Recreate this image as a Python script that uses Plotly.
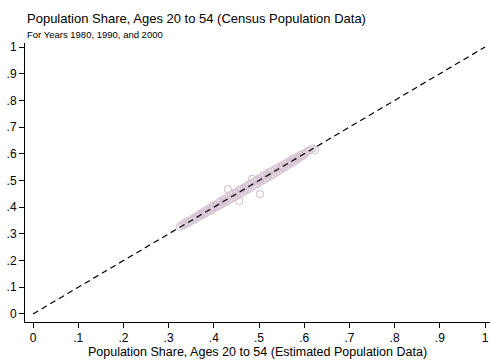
import plotly.graph_objects as go

# Estimated vs. census population share, ages 20 to 54 (1980, 1990, 2000)
est_share = [
    0.325, 0.330, 0.335, 0.338, 0.342, 0.345, 0.348, 0.352, 0.355, 0.358,
    0.360, 0.363, 0.366, 0.370, 0.372, 0.375, 0.378, 0.380, 0.383, 0.386,
    0.389, 0.392, 0.395, 0.398, 0.400, 0.403, 0.406, 0.409, 0.412, 0.415,
    0.418, 0.420, 0.423, 0.426, 0.429, 0.432, 0.435, 0.438, 0.440, 0.443,
    0.446, 0.449, 0.452, 0.455, 0.458, 0.460, 0.463, 0.466, 0.469, 0.472,
    0.475, 0.478, 0.480, 0.483, 0.486, 0.489, 0.492, 0.495, 0.498, 0.500,
    0.503, 0.506, 0.509, 0.512, 0.515, 0.518, 0.520, 0.523, 0.526, 0.529,
    0.532, 0.535, 0.538, 0.540, 0.543, 0.546, 0.549, 0.552, 0.555, 0.558,
    0.560, 0.563, 0.566, 0.569, 0.572, 0.575, 0.578, 0.580, 0.583, 0.586,
    0.589, 0.592, 0.595, 0.598, 0.600, 0.604, 0.608, 0.612, 0.618,
    0.400, 0.450, 0.500, 0.550, 0.370, 0.420, 0.470, 0.520, 0.570,
    0.431, 0.456, 0.502, 0.485, 0.624,
]
census_share = [
    0.327, 0.334, 0.333, 0.343, 0.340, 0.349, 0.346, 0.356, 0.352, 0.362,
    0.358, 0.368, 0.363, 0.375, 0.369, 0.380, 0.374, 0.386, 0.379, 0.391,
    0.385, 0.398, 0.390, 0.404, 0.396, 0.409, 0.401, 0.415, 0.406, 0.421,
    0.412, 0.427, 0.417, 0.432, 0.422, 0.439, 0.428, 0.445, 0.433, 0.450,
    0.438, 0.456, 0.444, 0.462, 0.450, 0.468, 0.455, 0.473, 0.461, 0.479,
    0.466, 0.485, 0.472, 0.490, 0.478, 0.496, 0.484, 0.502, 0.490, 0.507,
    0.496, 0.513, 0.501, 0.519, 0.507, 0.524, 0.512, 0.530, 0.518, 0.535,
    0.524, 0.541, 0.530, 0.546, 0.536, 0.551, 0.542, 0.557, 0.548, 0.563,
    0.554, 0.568, 0.560, 0.574, 0.566, 0.579, 0.572, 0.584, 0.578, 0.589,
    0.584, 0.595, 0.591, 0.600, 0.598, 0.605, 0.610, 0.613, 0.620,
    0.401, 0.452, 0.500, 0.551, 0.371, 0.420, 0.469, 0.521, 0.569,
    0.468, 0.423, 0.449, 0.506, 0.614,
]

# 45-degree reference line
diag = [0, 1]

tick_vals = [0, 0.1, 0.2, 0.3, 0.4, 0.5, 0.6, 0.7, 0.8, 0.9, 1]
tick_text = ["0", ".1", ".2", ".3", ".4", ".5", ".6", ".7", ".8", ".9", "1"]

FONT = "Liberation Sans, Arial, sans-serif"

fig = go.Figure()
fig.add_trace(go.Scatter(
    x=est_share, y=census_share, mode="markers",
    marker=dict(symbol="circle-open", size=7,
                color="rgb(214,196,212)", line=dict(width=1.1)),
    showlegend=False, hoverinfo="skip",
))
fig.add_trace(go.Scatter(
    x=diag, y=diag, mode="lines",
    line=dict(color="black", width=1.2, dash="6px,4px"),
    showlegend=False, hoverinfo="skip",
))

axis_common = dict(
    showgrid=False, zeroline=False, showline=True, linecolor="black",
    linewidth=1, ticks="outside", ticklen=5, tickcolor="black",
    tickvals=tick_vals, ticktext=tick_text,
    tickfont=dict(family=FONT, size=12, color="black"),
)

fig.update_layout(
    width=490, height=362,
    margin=dict(l=25, r=0, t=43, b=40),
    paper_bgcolor="white", plot_bgcolor="white",
    font=dict(family=FONT, color="black"),
    xaxis=dict(
        range=[-0.0177, 1.011], **axis_common,
        title=dict(text="Population Share, Ages 20 to 54 (Estimated Population Data)",
                   font=dict(family=FONT, size=12.5, color="black"), standoff=0),
    ),
    yaxis=dict(range=[-0.030, 1.015], **axis_common),
    title=dict(text="Population Share, Ages 20 to 54 (Census Population Data)",
               x=27 / 490, xanchor="left", y=1 - 18 / 362, yanchor="middle",
               font=dict(family=FONT, size=13, color="black")),
    annotations=[dict(
        text="For Years 1980, 1990, and 2000", xref="paper", yref="paper",
        x=0.0, y=1.032, xanchor="left", yanchor="middle", showarrow=False,
        font=dict(family=FONT, size=9.5, color="black"),
    )],
)

fig.write_html("out.html")
